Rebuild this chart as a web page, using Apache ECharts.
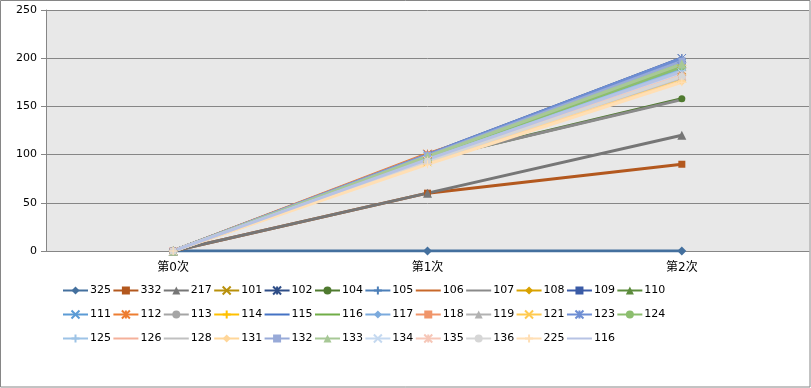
<!DOCTYPE html>
<html><head><meta charset="utf-8">
<script src="https://cdn.jsdelivr.net/npm/echarts@6/dist/echarts.min.js"></script>
<style>html,body{margin:0;padding:0;background:#fff}#c{width:811px;height:388px}</style>
</head><body><div id="c"></div>
<script>
const categories = ['第0次', '第1次', '第2次'];
const yTicks = [0, 50, 100, 150, 200, 250];
const seriesNames = ['325','332','217','101','102','104','105','106','107','108','109','110',
  '111','112','113','114','115','116','117','118','119','121','123','124',
  '125','126','128','131','132','133','134','135','136','225','116 '];
const s325 = [0, 0, 0];
const s332 = [0, 60, 90];
const s217 = [0, 60, 120];
const s101 = [0, 96, 188];
const s102 = [0, 100, 200];
const s104 = [0, 95, 158];
const s105 = [0, 97, 194];
const s106 = [0, 94, 185];
const s107 = [0, 95, 157];
const s108 = [0, 96, 190];
const s109 = [0, 99, 197];
const s110 = [0, 97, 192];
const s111 = [0, 98, 195];
const s112 = [0, 101, 186];
const s113 = [0, 94, 182];
const s114 = [0, 97, 193];
const s115 = [0, 99, 198];
const s116 = [0, 98, 196];
const s117 = [0, 96, 189];
const s118 = [0, 100, 181];
const s119 = [0, 94, 181];
const s121 = [0, 92, 179];
const s123 = [0, 100, 200];
const s124 = [0, 97, 191];
const s125 = [0, 95, 187];
const s126 = [0, 94, 183];
const s128 = [0, 93, 180];
const s131 = [0, 93, 176];
const s132 = [0, 99, 197];
const s133 = [0, 98, 194];
const s134 = [0, 94, 185];
const s135 = [0, 94, 182];
const s136 = [0, 93, 181];
const s225 = [0, 90, 175];
const s116b = [0, 95, 186];
const seriesValues = [s325,s332,s217,s101,s102,s104,s105,s106,s107,s108,s109,s110,
  s111,s112,s113,s114,s115,s116,s117,s118,s119,s121,s123,s124,
  s125,s126,s128,s131,s132,s133,s134,s135,s136,s225,s116b];
const colors = ['#44709E','#B3581E','#767676','#B8900B','#2E4D87','#4F7A2F','#4C7FB8','#C8682A','#8A8A8A','#D9A200','#3A5BA6','#5C8C3C',
  '#5B9BD5','#ED7D31','#A5A5A5','#FFC000','#4472C4','#70AD47','#7BAADD','#F0956A','#B2B2B2','#FFCA50','#6E8ED3','#8CBE6E',
  '#9DC3E6','#F4B09A','#C0C0C0','#FFD699','#98AAD8','#A7C896','#C5D9F0','#F6C7B8','#D6D6D6','#FFDFB5','#B7C3E4'];
const markerCycle = ['diamond','rect','triangle','x','asterisk','circle','plus','none','none'];

const symbolPaths = {
  x: 'path://M0,0L10,10M10,0L0,10',
  asterisk: 'path://M0,0L10,10M10,0L0,10M5,0L5,10',
  plus: 'path://M5,0L5,10M0,5L10,5'
};
const FONT = 'DejaVu Sans, Noto Sans CJK SC, sans-serif';

const series = seriesNames.map((name, i) => {
  const m = markerCycle[i % markerCycle.length];
  const isLine = (m === 'x' || m === 'asterisk' || m === 'plus');
  const sym = m === 'none' ? 'circle' : (symbolPaths[m] || m);
  return {
    name: name,
    type: 'line',
    data: seriesValues[i],
    symbol: sym,
    symbolSize: m === 'diamond' ? 9 : (m === 'triangle' ? 9 : (isLine ? 8 : 7)),
    showSymbol: m !== 'none',
    lineStyle: { width: 3, color: colors[i] },
    itemStyle: {
      color: isLine ? 'none' : colors[i],
      borderColor: colors[i],
      borderWidth: isLine ? 1 : 0,
      opacity: m === 'none' ? 0 : 1
    },
    emphasis: { disabled: true },
    animation: false,
    z: 2
  };
});

const rows = [seriesNames.slice(0, 12), seriesNames.slice(12, 24), seriesNames.slice(24)];
const legends = rows.map((r, k) => ({
  data: r,
  left: 62,
  top: 284 + k * 24,
  padding: 0,
  itemWidth: 25,
  itemHeight: 10,
  itemGap: 1.4,
  selectedMode: false,
  formatter: n => n.trim(),
  textStyle: { fontFamily: FONT, fontSize: 11, color: '#000', padding: [0, 0, 0, -3] }
}));

const chart = echarts.init(document.getElementById('c'), null, { renderer: 'canvas' });
chart.setOption({
  animation: false,
  graphic: [{
    type: 'rect', shape: { x: 0.5, y: 0.5, width: 809.5, height: 386.5 },
    style: { fill: 'none', stroke: '#868686', lineWidth: 1 }, z: 100
  }],
  grid: { left: 46, right: 2, top: 10, bottom: 137, show: true, backgroundColor: '#E8E8E8', borderWidth: 0 },
  legend: legends,
  xAxis: {
    type: 'category', data: categories, boundaryGap: true,
    axisLine: { lineStyle: { color: '#868686', width: 1 } },
    axisTick: { show: false },
    axisLabel: { fontFamily: FONT, fontSize: 12, color: '#000', margin: 11 }
  },
  yAxis: {
    type: 'value', min: 0, max: 250, interval: 50,
    axisLine: { show: true, lineStyle: { color: '#868686' } },
    axisTick: { show: true, inside: false, length: 5, lineStyle: { color: '#868686' } },
    axisLabel: { fontFamily: FONT, fontSize: 11, color: '#000', margin: 9,
      formatter: v => yTicks.indexOf(v) >= 0 ? String(v) : '' },
    splitLine: { lineStyle: { color: '#868686', width: 1 } }
  },
  series: series
});
</script></body></html>
